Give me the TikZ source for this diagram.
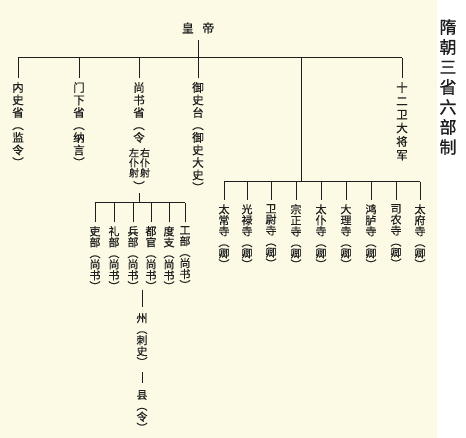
\documentclass[tikz,border=0pt]{standalone}
\usepackage{fontspec}
\newfontfamily\cjk[UprightFeatures={FakeBold=0.6}]{Noto Sans CJK SC}
\newfontfamily\cjkt[UprightFeatures={FakeBold=0.9}]{Noto Sans CJK SC}
\definecolor{cream}{RGB}{252,249,228}
\definecolor{ink}{RGB}{30,30,30}
\tikzset{
  vt/.style={font=\cjk\fontsize{11.5}{12.5}\selectfont, align=center, inner xsep=0pt, inner ysep=4pt, anchor=north, text=ink},
  vd/.style={font=\cjk\fontsize{11}{11}\selectfont, align=center, inner xsep=0pt, inner ysep=4pt, anchor=north, text=ink},
  vs/.style={font=\cjk\fontsize{10}{10}\selectfont, align=center, inner sep=0pt, anchor=north, text=ink},
  ln/.style={draw=ink, line width=1pt},
}
\begin{document}
\begin{tikzpicture}[x=1pt,y=-1pt]
\fill[white] (0,0) rectangle (466,438);
\fill[cream] (0,0) rectangle (437,438);
\useasboundingbox (0,0) rectangle (466,438);

% title
\node[font=\cjkt\fontsize{17}{20}\selectfont, align=center, inner sep=0pt, anchor=north, text=ink] (title) at (448,19) {隋\\朝\\三\\省\\六\\部\\制};

% emperor
\node[font=\cjk\fontsize{12}{14}\selectfont, inner sep=0pt, minimum height=24pt, text=ink] (emp) at (198,28) {皇\hspace{0.7em}帝};

% top level
\node[vt] (neishi) at (18,78) {内\\史\\省\\︵\\监\\令\\︶};
\node[vt] (menxia) at (79,78) {门\\下\\省\\︵\\纳\\言\\︶};
\node[vt] (shangshu) at (139,78) {尚\\书\\省\\︵\\令};
\node[vs] (zuo) at (134,148) {左\\仆\\射};
\node[vs] (you) at (145,148) {右\\仆\\射};
\node[vt, inner ysep=0pt, anchor=center, minimum height=14pt] (shangp) at (139,186) {︶};
\node[vt] (yushi) at (198,78) {御\\史\\台\\︵\\御\\史\\大\\史\\︶};
\node[vt, font=\cjk\fontsize{11.5}{13.5}\selectfont] (shier) at (402,78) {十\\二\\卫\\大\\将\\军};

\coordinate (b0) at (18,58);
\coordinate (b1) at (402,58);
\coordinate (bs) at (301,58);
\draw[ln] (b0) -- (b1);
\draw[ln] (emp.south) -- (yushi.north);
\foreach \n in {neishi,menxia,shangshu,shier}
  \draw[ln] (\n.north |- b0) -- (\n.north);

% departments
\node[vd] (li)   at (95,222)  {吏\\部\\︵\\尚\\书\\︶};
\node[vd] (lib)  at (114,222) {礼\\部\\︵\\尚\\书\\︶};
\node[vd] (bing) at (133,222) {兵\\部\\︵\\尚\\书\\︶};
\node[vd] (du)   at (151,222) {都\\官\\︵\\尚\\书\\︶};
\node[vd] (duz)  at (169,222) {度\\支\\︵\\尚\\书\\︶};
\node[vd] (gong) at (185,222) {工\\部\\︵\\尚\\书\\︶};
\coordinate (d0) at (95,203);
\coordinate (d1) at (185,203);
\draw[ln] (d0) -- (d1);
\draw[ln] (shangp.south) -- (shangp.south |- d0);
\foreach \n in {li,lib,bing,du,duz,gong}
  \draw[ln] (\n.north |- d0) -- (\n.north);

% local
\node[vd, inner ysep=6pt] (zhou) at (142,307) {州\\︵\\刺\\史\\︶};
\node[vd, inner ysep=7pt] (xian) at (142,383) {县\\︵\\令\\︶};
\coordinate (z0) at (142,290);
\draw[ln] (z0) -- (zhou.north);
\draw[ln] (zhou.south) -- (xian.north);

% nine courts
\node[vd] (t1) at (224,200) {太\\常\\寺\\︵\\卿\\︶};
\node[vd] (t2) at (247,200) {光\\禄\\寺\\︵\\卿\\︶};
\node[vd] (t3) at (271,200) {卫\\尉\\寺\\︵\\卿\\︶};
\node[vd] (t4) at (296,200) {宗\\正\\寺\\︵\\卿\\︶};
\node[vd] (t5) at (321,200) {太\\仆\\寺\\︵\\卿\\︶};
\node[vd] (t6) at (346,200) {大\\理\\寺\\︵\\卿\\︶};
\node[vd] (t7) at (371,200) {鸿\\胪\\寺\\︵\\卿\\︶};
\node[vd] (t8) at (396,200) {司\\农\\寺\\︵\\卿\\︶};
\node[vd] (t9) at (420,200) {太\\府\\寺\\︵\\卿\\︶};
\coordinate (s0) at (224,182);
\coordinate (s1) at (420,182);
\coordinate (s2) at (301,182);
\draw[ln] (s0) -- (s1);
\draw[ln] (bs) -- (s2);
\foreach \n in {t1,t2,t3,t4,t5,t6,t7,t8,t9}
  \draw[ln] (\n.north |- s0) -- (\n.north);
\end{tikzpicture}
\end{document}
